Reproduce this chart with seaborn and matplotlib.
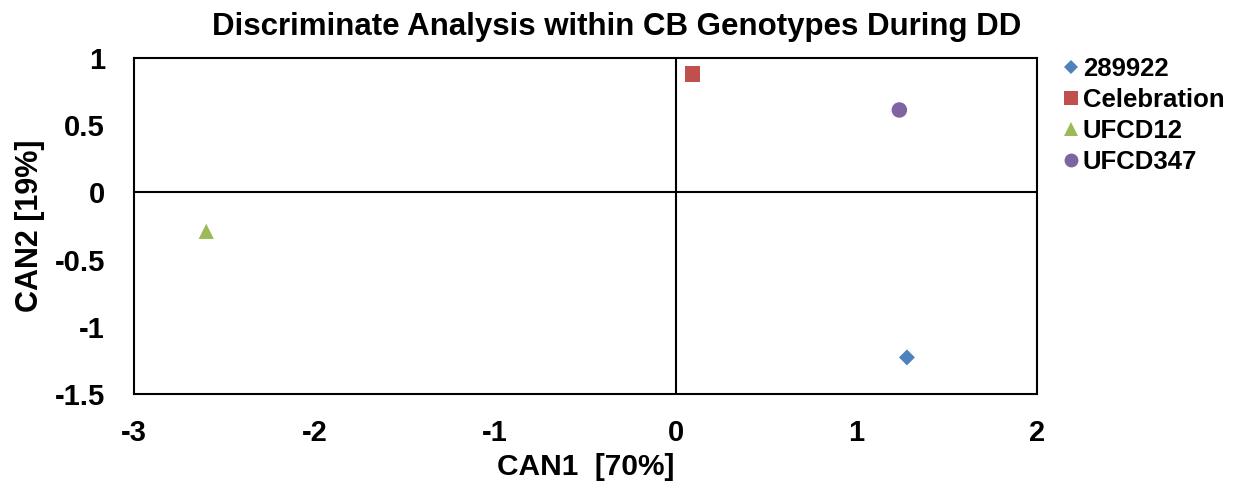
import matplotlib
matplotlib.use("Agg")
import matplotlib.pyplot as plt
import seaborn as sns
import pandas as pd
from matplotlib.lines import Line2D

genotypes = ["289922", "Celebration", "UFCD12", "UFCD347"]
can1 = [1.28, 0.093, -2.6, 1.238]
can2 = [-1.228, 0.88, -0.29, 0.613]
colors = ["#4F81BD", "#C0504D", "#9BBB59", "#8064A2"]
markers = ["D", "s", "^", "o"]
xticks = [-3, -2, -1, 0, 1, 2]
xticklabels = ["-3", "-2", "-1", "0", "1", "2"]
yticks = [-1.5, -1, -0.5, 0, 0.5, 1]
yticklabels = ["-1.5", "-1", "-0.5", "0", "0.5", "1"]

df = pd.DataFrame({"CAN1": can1, "CAN2": can2, "Genotype": genotypes})

sns.set_theme(style="white")
plt.rcParams['font.family'] = ['Liberation Sans', 'DejaVu Sans']
plt.rcParams['text.color'] = 'black'
plt.rcParams['axes.labelcolor'] = 'black'
plt.rcParams['xtick.color'] = 'black'
plt.rcParams['ytick.color'] = 'black'

fig = plt.figure(figsize=(12.33, 4.87), dpi=100)
ax = fig.add_axes([0.1087, 0.191, 0.7323, 0.690])

sizes = {"289922": 66, "Celebration": 130, "UFCD12": 120, "UFCD347": 125}
sns.scatterplot(data=df, x="CAN1", y="CAN2", hue="Genotype", style="Genotype",
                size="Genotype", sizes=sizes,
                palette=dict(zip(genotypes, colors)),
                markers=dict(zip(genotypes, markers)),
                linewidth=0, ax=ax, legend=False, zorder=3)

ax.axhline(0, color="black", lw=1.5, zorder=2)
ax.axvline(0, color="black", lw=1.5, zorder=2)
ax.set_xlim(-3, 2)
ax.set_ylim(-1.5, 1)
ax.set_xticks(xticks)
ax.set_xticklabels(xticklabels)
ax.set_yticks(yticks)
ax.set_yticklabels(yticklabels)
ax.tick_params(axis="both", length=0, labelsize=21)
ax.tick_params(axis="x", pad=18)
ax.tick_params(axis="y", pad=21)
for lab in ax.get_xticklabels() + ax.get_yticklabels():
    lab.set_fontweight("bold")
for sp in ax.spines.values():
    sp.set_color("black")
    sp.set_linewidth(1.5)

ax.set_xlabel("CAN1  [70%]", fontsize=21.5, fontweight="bold", labelpad=4)
ax.set_ylabel("CAN2 [19%]", fontsize=22, fontweight="bold", labelpad=7)
fig.suptitle("Discriminate Analysis within CB Genotypes During DD",
             fontsize=22.5, fontweight="bold", x=0.5, y=0.975, va="top")

handles = [Line2D([0], [0], marker=m, color="none", markerfacecolor=c,
                  markeredgewidth=0, markersize=ms)
           for m, c, ms in zip(markers, colors, [7.5, 9.5, 10, 10])]
leg = fig.legend(handles, genotypes, loc="upper left", bbox_to_anchor=(0.847, 0.905),
                 frameon=False, prop={"size": 18.5, "weight": "bold"},
                 handletextpad=-0.2, labelspacing=0.28, handlelength=1.3,
                 borderaxespad=0)
for t in leg.get_texts():
    t.set_color("black")

fig.savefig("out.png", dpi=100)
